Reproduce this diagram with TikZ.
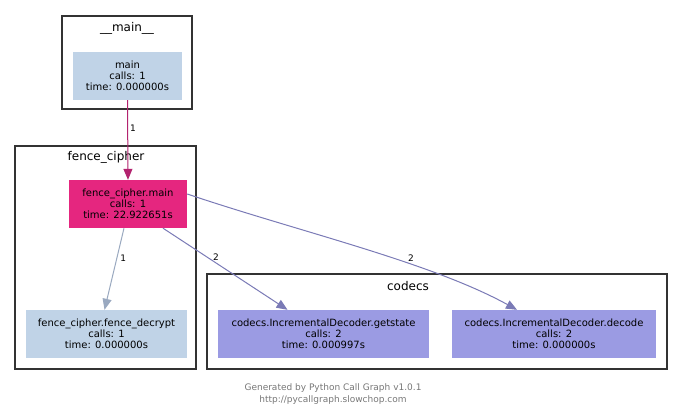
\documentclass[tikz,border=0pt]{standalone}
\usepackage{fontspec}
\setmainfont{DejaVu Sans}
\usetikzlibrary{arrows.meta,calc}
\definecolor{lblue}{HTML}{C0D3E7}
\definecolor{magfill}{HTML}{E5267F}
\definecolor{magedge}{HTML}{B3236F}
\definecolor{perfill}{HTML}{9B9BE3}
\definecolor{peredge}{HTML}{7A7AB6}
\definecolor{grayedge}{HTML}{9AA9C0}
\definecolor{clborder}{HTML}{333333}
\definecolor{foot}{HTML}{777777}
\tikzset{
  cluster/.style={draw=clborder, line width=2.2pt, fill=white},
  fnode/.style={inner sep=0pt, align=center, font=\fontsize{10}{11}\selectfont, text=black},
  ctitle/.style={font=\fontsize{12}{14}\selectfont, inner sep=0pt},
  edge/.style={line width=1pt, -{Triangle[length=11pt,width=9pt]}},
  elabel/.style={font=\fontsize{9}{10}\selectfont, inner sep=0pt}
}
\begin{document}
\begin{tikzpicture}[x=1pt,y=-1pt]
\useasboundingbox (0,0) rectangle (683,417);
% clusters
\draw[cluster] (62,16) rectangle (192,109);
\node[ctitle] (t1) at (127,28) {\_\_main\_\_};
\draw[cluster] (15,146) rectangle (196,369);
\node[ctitle] (t2) at (106,157) {fence\_cipher};
\draw[cluster] (207,274) rectangle (667,369);
\node[ctitle] (t3) at (408,286) {codecs};
% nodes
\node[fnode, fill=lblue, minimum width=109pt, minimum height=48pt] (main) at (127.5,76) {main\\calls: 1\\time: 0.000000s};
\node[fnode, fill=magfill, minimum width=118pt, minimum height=48pt] (fcm) at (128,204) {fence\_cipher.main\\calls: 1\\time: 22.922651s};
\node[fnode, fill=lblue, minimum width=161pt, minimum height=48pt] (fcd) at (106.5,334) {fence\_cipher.fence\_decrypt\\calls: 1\\time: 0.000000s};
\node[fnode, fill=perfill, minimum width=211pt, minimum height=48pt] (gs) at (323.5,334) {codecs.IncrementalDecoder.getstate\\calls: 2\\time: 0.000997s};
\node[fnode, fill=perfill, minimum width=204pt, minimum height=48pt] (dec) at (554,334) {codecs.IncrementalDecoder.decode\\calls: 2\\time: 0.000000s};
% edges
\draw[edge, draw=magedge] (main.south) -- (fcm.north) node[elabel, pos=0.35, right=2pt] {1};
\draw[edge, draw=grayedge] ([xshift=-4]fcm.south) -- ([xshift=-2]fcd.north) node[elabel, pos=0.37, right=3pt] {1};
\draw[edge, draw=peredge] ([xshift=35]fcm.south) -- ([xshift=-36]gs.north) node[elabel, pos=0.35, right=6pt] {2};
\draw[edge, draw=peredge] ([yshift=10]fcm.east) .. controls (300,232) and (430,262) .. ([xshift=-37]dec.north);
\node[elabel] (l4) at (411,258) {2};
% footer
\node[font=\fontsize{9}{12}\selectfont, text=foot, align=center, inner sep=0pt] (footer) at (333,394) {Generated by Python Call Graph v1.0.1\\http://pycallgraph.slowchop.com};
\end{tikzpicture}
\end{document}
